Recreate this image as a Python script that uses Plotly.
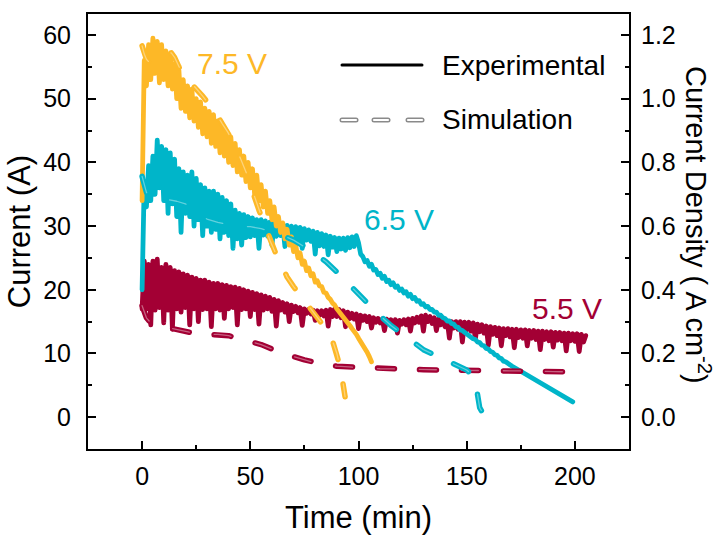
import numpy as np
import plotly.graph_objects as go

# ---- Experimental current traces (A), sampled every minute ----
exp_75_current = [
    34, 56, 52, 58.5, 53, 59.5, 54, 59, 52.5, 58.5,
    53, 57.5, 52, 57, 51.5, 55.5, 50, 54.5, 48.5, 53,
    48, 52, 47, 51.5, 46.5, 50, 45.5, 49.5, 44.5, 48.5,
    44, 48, 43, 47.5, 42.5, 46.5, 41.5, 45.5, 41, 44.5,
    40, 44, 39.5, 43, 38.5, 42, 38, 41, 37, 40,
    36, 39, 35, 38, 34, 36.5, 33, 35.5, 32, 34,
    31, 33, 30, 31.5, 29, 30.5, 28, 29.5, 27, 28.3,
    26, 27, 25, 25.8, 24, 24.5, 23, 23.4, 22.2, 22.5,
    21.2, 21.4, 20.6, 20.5, 19.6, 19.5, 18.8, 18.5, 17.9, 17.6,
    17, 16.6, 16.1, 15.7, 15.3, 14.8, 14.4, 13.9, 13.5, 13,
    12.4, 11.9, 11.4, 10.8, 10.2, 9.5, 8.7,
]

exp_65_current = [
    20, 37, 33, 39.5, 34, 41, 35, 43.5, 36, 42.5,
    34, 42, 32, 41.5, 33.5, 40.5, 31.5, 39, 29, 38.5,
    32, 38, 31.5, 38.5, 30, 37.5, 31, 36.5, 28.5, 36,
    30, 35.5, 29, 35.5, 29.5, 35, 28, 34.5, 29, 34,
    28.5, 33.5, 26.5, 32.5, 28, 32, 27, 31.8, 28.2, 31.5,
    28.3, 31.3, 28.5, 31, 26.5, 31, 28.6, 30.8, 28.4, 30.6,
    27, 30.4, 28.4, 30.3, 28.5, 30.2, 26.8, 30.1, 28.3, 30,
    28, 29.9, 27.9, 29.8, 26.5, 29.6, 27.8, 29.4, 27.6, 29.2,
    25.6, 29, 26.9, 28.8, 26.8, 28.6, 25.5, 28.4, 26.7, 28.2,
    26, 28.1, 26.4, 28.1, 26.2, 28.2, 26.6, 28.3, 26.8, 28.5,
    27.4, 25.6, 25.2, 24.4, 24.6, 23.7, 24, 23.1, 23.2, 22.4,
    22.6, 21.8, 22.1, 21.3, 21.5, 20.8, 21.1, 20.4, 20.6, 19.9,
    20.1, 19.5, 19.7, 19, 19.3, 18.6, 18.8, 18.2, 18.3, 17.7,
    17.8, 17.3, 17.4, 16.9, 16.9, 16.5, 16.5, 16, 16, 15.6,
    15.5, 15.1, 15.1, 14.7, 14.6, 14.2, 14.1, 13.7, 13.6, 13.3,
    13.1, 12.8, 12.6, 12.3, 12.2, 11.8, 11.7, 11.3, 11.2, 10.8,
    10.7, 10.3, 10.2, 9.8, 9.7, 9.3, 9.2, 8.8, 8.7, 8.4,
    8.2, 8, 7.8, 7.6, 7.4, 7.2, 7, 6.8, 6.6, 6.4,
    6.2, 6, 5.8, 5.6, 5.4, 5.2, 5, 4.8, 4.6, 4.4,
    4.2, 4, 3.8, 3.6, 3.4, 3.2, 3, 2.8, 2.6, 2.4,
]

exp_55_current = [
    17, 24.5, 17, 24, 14.5, 24.5, 16.8, 24.8, 17.2, 23.5,
    14.8, 24, 16.8, 23.5, 13.8, 23, 17, 22.8, 16.5, 22.5,
    17.2, 22.3, 14.5, 22, 17, 21.8, 15, 21.5, 16.9, 21.5,
    17, 21.2, 14.2, 21, 17, 21, 16.8, 20.8, 15.5, 20.7,
    17, 20.5, 17.2, 20.4, 14.5, 20.2, 16.9, 20, 17, 19.8,
    15.8, 19.6, 16.9, 19.4, 14.6, 19.2, 16.8, 19, 17, 18.8,
    16.6, 18.5, 14.3, 18.3, 16.8, 18, 16.5, 17.8, 15, 17.6,
    16.6, 17.4, 16.4, 17.2, 14.4, 17, 16.3, 16.9, 16.2, 16.8,
    15.2, 16.7, 16, 16.7, 15.9, 16.8, 14.3, 16.9, 15.8, 17,
    15.8, 16.9, 15.6, 16.7, 14.2, 16.5, 15.5, 16.3, 15.4, 16.2,
    13.9, 16, 15.2, 15.9, 15, 15.8, 14, 15.6, 14.9, 15.5,
    14.8, 15.4, 13.6, 15.4, 14.8, 15.3, 14.6, 15.3, 13.2, 15.2,
    14.6, 15.3, 14.5, 15.4, 13.5, 15.5, 14.8, 15.7, 14.9, 15.9,
    13.5, 16, 15, 15.8, 14.7, 15.6, 13.6, 15.4, 14.5, 15.2,
    14.2, 15.1, 12.4, 15, 14, 15, 13.8, 15, 11.8, 14.9,
    13.7, 14.9, 13.5, 14.8, 12.3, 14.6, 13.4, 14.5, 13.2, 14.3,
    11.3, 14.2, 13, 14.1, 12.8, 14, 11.2, 13.9, 12.8, 13.9,
    12.6, 13.8, 10.9, 13.8, 12.5, 13.7, 12.4, 13.7, 11.2, 13.6,
    12.4, 13.6, 12.2, 13.5, 10.6, 13.5, 12.2, 13.4, 12, 13.4,
    11, 13.3, 12.1, 13.3, 12, 13.2, 10.4, 13.2, 12, 13.1,
    11.9, 13.1, 10.3, 13, 11.8, 12.8,
]
exp_step_min = 1.0

# ---- Simulated current curves (A) ----
sim_75_time = [0, 1, 2, 3, 5, 8, 11, 13.5, 15, 17, 18.5, 21, 24.5, 28, 31, 34,
               37, 39.5, 42, 45, 48, 51, 54, 56, 59, 62, 64, 67, 70, 74, 77,
               80, 83, 85.5, 88, 90, 91, 92, 93, 93.8]
sim_75_current = [58.3, 57, 56.2, 55.8, 55.8, 56.3, 57, 57.2, 56.5, 55, 54, 53,
                  51.8, 50.4, 49.1, 47.8, 46.1, 44.8, 43.2, 41, 38.5, 35.5, 32.5,
                  30.7, 27.8, 25.5, 24.3, 22, 20.5, 18.8, 17.4, 16.1, 14.8, 13.6,
                  12, 10, 8.5, 7, 5.2, 3.2]

sim_65_time = [0, 1, 2, 3, 5, 8, 12, 16, 20, 25, 30, 35, 40, 45, 50, 55, 60,
               65, 70, 75, 80, 85, 90, 95, 100, 105, 110, 115, 120, 125, 130,
               135, 140, 144, 147, 150, 152, 153.5, 154.3, 154.8, 155.3, 156,
               157, 158.5, 160, 161]
sim_65_current = [37.8, 36.5, 35.3, 34.8, 34.5, 34.4, 34.2, 33.9, 33.5, 32.3,
                  31.1, 30.6, 30.2, 30.0, 29.9, 29.6, 29.1, 28.5, 27.8, 26.8,
                  25.7, 24.4, 22.8, 21, 19.3, 17.5, 15.9, 14.4, 13.1, 11.8,
                  10.6, 9.8, 9.0, 8.4, 8.0, 7.4, 6.8, 6, 5, 3.8, 2.4, 1.5, 0.9,
                  0.5, 0.2, 0.1]

sim_55_time = [0, 1, 2, 3.5, 6, 10, 15, 20, 25, 30, 35, 40, 45, 50, 55, 60, 65,
               70, 75, 80, 85, 90, 100, 110, 120, 130, 140, 150, 160, 170, 180,
               190, 200]
sim_55_current = [17.5, 16.6, 15.6, 15, 14.6, 14.2, 13.8, 13.4, 13.1, 13, 13,
                  12.8, 12.3, 11.9, 11.4, 10.7, 10, 9.5, 9, 8.5, 8.2, 8, 7.8,
                  7.6, 7.55, 7.45, 7.4, 7.35, 7.3, 7.3, 7.25, 7.15, 7.1]

voltage_labels = ["7.5 V", "6.5 V", "5.5 V"]
colors = {"7.5 V": "#FDB827", "6.5 V": "#00B5C9", "5.5 V": "#A30034"}

FONT = "Liberation Sans, Arial, sans-serif"
SIM_DASH = "17px,25px"

fig = go.Figure()

# experimental curves (drawn first, simulations sit on top)
for label, values in [("5.5 V", exp_55_current), ("6.5 V", exp_65_current),
                      ("7.5 V", exp_75_current)]:
    t = np.arange(len(values)) * exp_step_min
    fig.add_trace(go.Scatter(x=t, y=values, mode="lines",
                             line=dict(color=colors[label], width=4.8),
                             hoverinfo="skip", showlegend=False))

# simulated curves: coloured dashed stroke with a light core
for label, tt, vv in [("5.5 V", sim_55_time, sim_55_current),
                      ("6.5 V", sim_65_time, sim_65_current),
                      ("7.5 V", sim_75_time, sim_75_current)]:
    fig.add_trace(go.Scatter(x=tt, y=vv, mode="lines",
                             line=dict(color=colors[label], width=5.5, dash=SIM_DASH),
                             hoverinfo="skip", showlegend=False))
    fig.add_trace(go.Scatter(x=tt, y=vv, mode="lines",
                             line=dict(color="rgba(255,255,255,0.38)", width=1.3,
                                       dash=SIM_DASH),
                             hoverinfo="skip", showlegend=False))

# invisible trace to activate the right-hand current-density axis
fig.add_trace(go.Scatter(x=[None], y=[None], yaxis="y2", showlegend=False,
                         hoverinfo="skip"))

axis_common = dict(showline=True, linecolor="black", linewidth=2,
                   ticks="inside", tickcolor="black", tickwidth=1.5, ticklen=8,
                   showgrid=False, zeroline=False, automargin=False,
                   tickfont=dict(family=FONT, size=25, color="black"))

fig.update_layout(
    width=719, height=535,
    margin=dict(l=88, r=90, t=14, b=86),
    paper_bgcolor="white", plot_bgcolor="white",
    font=dict(family=FONT, color="black"),
    showlegend=False,
    xaxis=dict(range=[-25, 225], dtick=50, tick0=0, mirror=True,
               minor=dict(dtick=25, ticks="inside", ticklen=4, tickwidth=1.5,
                          tickcolor="black"),
               ticklabelstandoff=4,
               title=dict(text="Time (min)", font=dict(family=FONT, size=31),
                          standoff=17),
               **axis_common),
    yaxis=dict(range=[-5, 63.3], dtick=10, tick0=0,
               minor=dict(dtick=5, ticks="inside", ticklen=4, tickwidth=1.5,
                          tickcolor="black"),
               ticklabelstandoff=10,
               title=dict(text="Current (A)", font=dict(family=FONT, size=31),
                          standoff=3),
               **axis_common),
    yaxis2=dict(range=[-0.1, 1.266], dtick=0.2, tick0=0, tickformat=".1f",
                overlaying="y", side="right",
                minor=dict(dtick=0.1, ticks="inside", ticklen=4, tickwidth=1.5,
                           tickcolor="black"),
                ticklabelstandoff=5,
                **axis_common),
)

# right-hand axis title, reading top to bottom
fig.add_annotation(xref="paper", yref="paper", x=(698 - 88) / 541, y=0.515,
                   xanchor="center", yanchor="middle",
                   text="Current Density ( A cm<sup>-2</sup>)", textangle=90,
                   showarrow=False, font=dict(family=FONT, size=29, color="black"))

# voltage labels beside their curves
label_pos = {"7.5 V": (24.4, 55.6), "6.5 V": (101.5, 31.1), "5.5 V": (179.3, 17.0)}
for label in voltage_labels:
    lx, ly = label_pos[label]
    fig.add_annotation(x=lx, y=ly, xref="x", yref="y", text=label,
                       showarrow=False, xanchor="left", yanchor="middle",
                       font=dict(family=FONT, size=30, color=colors[label]))

# legend key drawn in paper coordinates
def px_x(v):
    return (v - 88) / 541


def px_y(v):
    return (449 - v) / 435


fig.add_shape(type="line", xref="paper", yref="paper",
              x0=px_x(342), x1=px_x(422), y0=px_y(65), y1=px_y(65),
              line=dict(color="black", width=3))
for a, b in [(342, 356), (374, 388), (408, 422)]:
    fig.add_shape(type="line", xref="paper", yref="paper",
                  x0=px_x(a), x1=px_x(b), y0=px_y(120), y1=px_y(120),
                  line=dict(color="#8a8a8a", width=5))
    fig.add_shape(type="line", xref="paper", yref="paper",
                  x0=px_x(a), x1=px_x(b), y0=px_y(120), y1=px_y(120),
                  line=dict(color="white", width=2.2))
for text, yy in [("Experimental", 65), ("Simulation", 120)]:
    fig.add_annotation(xref="paper", yref="paper", x=px_x(440), y=px_y(yy),
                       text=text, showarrow=False, xanchor="left",
                       yanchor="middle",
                       font=dict(family=FONT, size=28, color="black"))

round_caps = (
    "document.querySelectorAll('.scatterlayer .js-line, .shapelayer path')"
    ".forEach(function(p){p.style.strokeLinecap='round';"
    "p.style.strokeLinejoin='round';});"
)
fig.write_html("out.html", post_script=round_caps)
